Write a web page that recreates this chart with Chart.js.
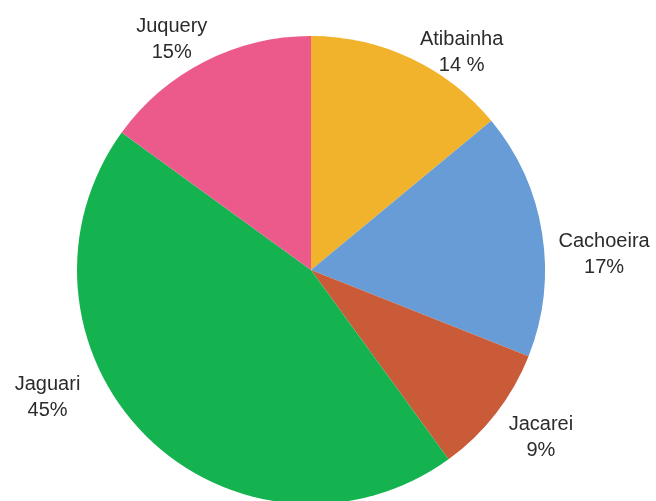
<!DOCTYPE html>
<html>
<head>
<meta charset="utf-8">
<script src="https://cdn.jsdelivr.net/npm/chart.js@4"></script>
<style>
  html, body { margin: 0; padding: 0; background: #fff; overflow: hidden; }
  #wrap { position: relative; width: 656px; height: 501px; overflow: hidden; }
  #myChart { position: absolute; left: 0; top: 0; }
</style>
</head>
<body>
<div id="wrap"><canvas id="myChart" width="656" height="520"></canvas></div>
<script>
const reservoirs = ['Atibainha', 'Cachoeira', 'Jacarei', 'Jaguari', 'Juquery'];
const shares = [14, 17, 9, 45, 15];
const shareLabels = ['14 %', '17%', '9%', '45%', '15%'];
const sliceColors = ['#F1B32B', '#679CD6', '#C95B38', '#15B34F', '#EC5A8C'];

// where each label sits, relative to the slice's outer edge at its mid angle
const labelNudge = [[51, -6], [62, 21], [45, 24], [-98, -38], [-33, -22]];

const sliceLabels = {
    id: 'sliceLabels',
    afterDraw(chart) {
        const ctx = chart.ctx;
        const arcs = chart.getDatasetMeta(0).data;
        ctx.save();
        ctx.fillStyle = '#2b2b2b';
        ctx.font = '20px "Liberation Sans", Arial, sans-serif';
        ctx.textAlign = 'center';
        ctx.textBaseline = 'middle';
        arcs.forEach((arc, i) => {
            const p = arc.getProps(['x', 'y', 'startAngle', 'endAngle', 'outerRadius'], true);
            const mid = (p.startAngle + p.endAngle) / 2;
            const x = p.x + Math.cos(mid) * p.outerRadius + labelNudge[i][0];
            const y = p.y + Math.sin(mid) * p.outerRadius + labelNudge[i][1];
            ctx.fillText(reservoirs[i], x, y - 13);
            ctx.fillText(shareLabels[i], x, y + 13);
        });
        ctx.restore();
    }
};

const ctx = document.getElementById('myChart').getContext('2d');
const myChart = new Chart(ctx, {
    type: 'pie',
    data: {
        labels: reservoirs,
        datasets: [{
            data: shares,
            backgroundColor: sliceColors,
            borderWidth: 0
        }]
    },
    options: {
        responsive: false,
        animation: false,
        devicePixelRatio: 1,
        layout: { padding: { left: 77, right: 111, top: 36, bottom: 16 } },
        plugins: {
            legend: { display: false },
            tooltip: { enabled: false }
        }
    },
    plugins: [sliceLabels]
});
</script>
</body>
</html>
